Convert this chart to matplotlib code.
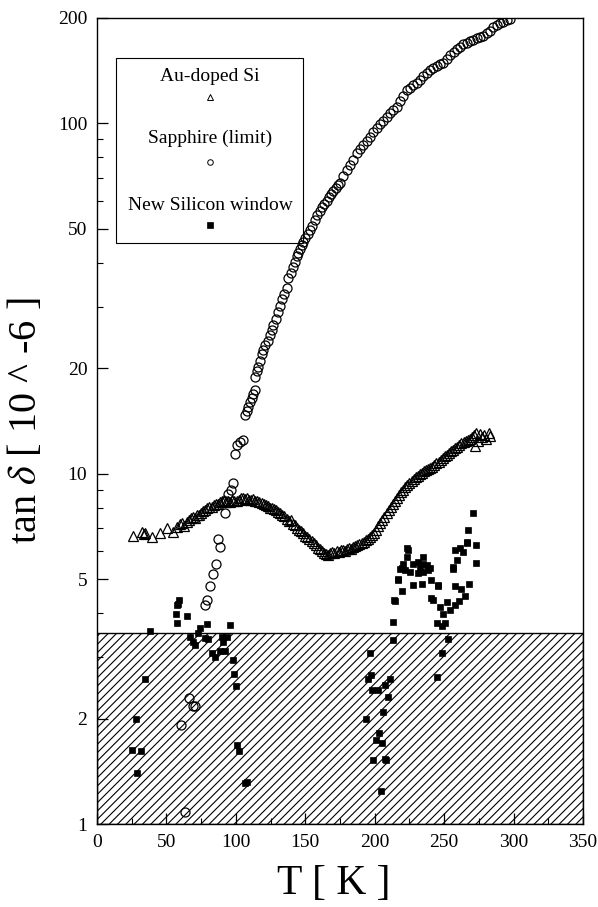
import matplotlib
matplotlib.use('Agg')
import numpy as np
import matplotlib.pyplot as plt
from matplotlib.patches import Rectangle
from matplotlib.ticker import FixedLocator, LogLocator, MultipleLocator, NullFormatter

# loss tangent (x 1e-6) vs temperature, three samples
au_T = [26.2, 32.2, 33.8, 34.6, 39.4, 45.4, 50.2, 55.0, 57.5,
        60.0, 61.5, 63.0, 64.5, 66.0, 67.5, 69.0, 70.5, 72.0, 73.5, 75.0, 76.5, 78.0, 79.5,
        81.0, 82.5, 84.0, 85.5, 87.0, 88.5, 90.0, 91.5, 93.0, 94.5, 96.0, 97.5, 99.0, 100.5,
        102.0, 103.5, 105.0, 106.5, 108.0, 109.5, 111.0, 112.5, 114.0, 115.5, 117.0, 118.5,
        120.0, 121.5, 123.0, 124.5, 126.0, 127.5, 129.0, 130.5, 132.0, 133.5, 135.0, 136.5,
        138.0, 139.5, 141.0, 142.5, 144.0, 145.5, 147.0, 148.5, 150.0, 151.5, 153.0, 154.5,
        156.0, 157.5, 159.0, 160.5, 162.0, 163.5, 165.0, 166.5, 168.0, 169.5, 171.0, 172.5,
        174.0, 175.5, 177.0, 178.5, 180.0, 181.5, 183.0, 184.5, 186.0, 187.5, 189.0, 190.5,
        192.0, 193.5, 195.0, 196.5, 198.0, 199.5, 201.0, 202.5, 204.0, 205.5, 207.0, 208.5,
        210.0, 211.5, 213.0, 214.5, 216.0, 217.5, 219.0, 220.5, 222.0, 223.5, 225.0, 226.5,
        228.0, 229.5, 231.0, 232.5, 234.0, 235.5, 237.0, 238.5, 240.0, 241.5, 243.0, 244.5,
        246.0, 247.5, 249.0, 250.5, 252.0, 253.5, 255.0, 256.5, 258.0, 259.5, 261.0, 262.5,
        264.0, 265.5, 267.0, 268.5, 270.0, 271.5, 272.0, 273.0, 274.5, 276.0, 277.5, 279.0,
        280.5, 282.0, 283.0]
au_tan = [6.64, 6.83, 6.72, 6.76, 6.61, 6.79, 6.99, 6.83, 7.05,
          7.18, 7.25, 7.08, 7.30, 7.36, 7.45, 7.52, 7.47, 7.60, 7.63, 7.72, 7.82, 7.86, 7.98,
          8.05, 8.02, 8.12, 8.18, 8.22, 8.30, 8.38, 8.42, 8.28, 8.36, 8.31, 8.40, 8.35, 8.38,
          8.44, 8.52, 8.50, 8.46, 8.55, 8.42, 8.40, 8.46, 8.35, 8.38, 8.30, 8.26,
          8.20, 8.16, 8.08, 8.00, 7.97, 7.92, 7.86, 7.78, 7.70, 7.63, 7.55, 7.44,
          7.32, 7.36, 7.20, 7.12, 7.02, 6.92, 6.86, 6.78, 6.66, 6.60, 6.50, 6.42,
          6.33, 6.24, 6.15, 6.08, 6.02, 5.95, 5.88, 5.86, 5.92, 5.97, 5.94, 6.00,
          5.98, 6.04, 6.06, 6.02, 6.08, 6.12, 6.10, 6.18, 6.22, 6.25, 6.30, 6.34,
          6.40, 6.46, 6.52, 6.58, 6.68, 6.78, 6.92, 7.08, 7.22, 7.38, 7.52, 7.70,
          7.86, 8.02, 8.18, 8.35, 8.52, 8.70, 8.85, 9.00, 9.18, 9.30, 9.42, 9.55,
          9.66, 9.78, 9.86, 9.95, 10.05, 10.15, 10.22, 10.30, 10.38, 10.48, 10.60, 10.70,
          10.82, 10.95, 11.12, 11.25, 11.34, 11.45, 11.60, 11.70, 11.82, 11.95, 12.08, 12.20,
          12.32, 12.40, 12.52, 12.60, 12.75, 12.90, 11.96, 13.05, 12.40, 12.95, 12.70, 12.90,
          12.55, 13.05, 12.85]

sap_T = [63.4, 60.5, 66.3, 69.4, 70.6, 78.0, 79.5, 81.4, 83.8, 85.5, 86.9, 88.6,
         92.2, 92.9, 94.6, 96.5, 98.2, 99.4, 100.6, 103.0, 105.4, 106.6, 108.0, 109.0,
         110.2, 111.4, 112.6, 113.8, 113.8, 115.0, 116.2, 117.4, 118.6, 119.8, 121.0,
         122.8, 124.6, 125.8, 127.0, 128.8, 130.6, 131.8, 133.0, 134.8, 136.6, 137.8,
         139.6, 141.4, 142.6, 143.8, 145.0, 146.2, 147.4, 148.6, 150.0, 151.6, 153.4,
         155.0, 157.0, 158.8, 160.6, 162.2, 163.8, 165.4, 167.0, 168.6, 170.2, 171.8,
         173.4, 175.0, 177.4, 179.8, 182.2, 184.6, 187.0, 189.4, 191.8, 194.2, 196.6,
         199.0, 201.4, 203.8, 206.2, 208.6, 211.0, 213.4, 215.8, 218.2, 220.6, 223.0,
         225.4, 227.8, 230.2, 232.6, 235.0, 237.4, 239.8, 242.2, 244.6, 247.0, 249.5,
         252.0, 254.4, 256.8, 259.0, 261.4, 263.8, 266.2, 268.6, 271.0, 273.4, 275.8,
         278.2, 280.6, 283.0, 285.4, 287.8, 290.2, 292.6, 295.0, 297.4]
sap_tan = [1.08, 1.92, 2.29, 2.17, 2.17, 4.22, 4.36, 4.77, 5.17, 5.53, 6.49, 6.17,
           7.74, 8.37, 8.77, 9.00, 9.43, 11.37, 12.06, 12.35, 12.50, 14.7, 15.1, 15.5,
           16.0, 16.4, 16.9, 17.3, 18.9, 19.6, 20.2, 21.0, 22.0, 22.6, 23.3,
           24.0, 24.9, 25.8, 26.6, 27.6, 29.0, 30.2, 31.6, 32.6, 33.8, 36.3,
           37.5, 39.0, 40.2, 41.7, 42.8, 43.9, 45.0, 46.0, 47.2, 48.3, 49.6,
           51.0, 52.9, 54.6, 56.4, 57.8, 59.0, 60.2, 61.6, 62.8, 64.1, 65.4,
           66.7, 67.7, 71.0, 73.7, 76.0, 78.8, 82.1, 84.5, 86.6, 89.3, 91.6,
           94.8, 97.3, 99.5, 101.9, 104.0, 106.8, 109.5, 111.5, 115.5, 120.0, 124.3,
           126.0, 128.6, 130.5, 133.0, 136.5, 139.5, 141.8, 144.0, 146.0, 147.5, 149.2,
           153.0, 156.5, 160.0, 163.0, 165.5, 168.0, 170.0, 171.4, 173.0, 175.5, 176.5,
           177.9, 181.5, 184.0, 188.0, 191.0, 193.5, 195.0, 197.5, 199.0]

si_T = [38.2, 59.3, 58.6, 57.8, 56.9, 64.6, 57.4, 79.0, 74.2, 95.8, 73.0, 67.0,
        69.4, 70.6, 77.8, 80.1, 89.8, 93.4, 91.0, 82.6, 85.0, 88.6, 92.2, 98.2,
        98.7, 100.1, 34.6, 27.8, 25.5, 31.8, 28.6, 100.6, 102.5, 106.6, 108.2,
        271.0, 267.4, 266.2, 273.1, 261.4, 257.8, 263.8, 273.1, 259.0, 256.1, 268.1,
        257.8, 262.1, 265.0, 260.9, 257.8, 251.8, 247.0, 254.2, 249.4, 241.9, 240.7,
        245.6, 240.5, 238.6, 235.0, 231.4, 235.0, 235.0, 231.4, 227.8, 224.2, 223.0,
        220.6, 219.4, 221.8, 225.4, 216.9, 219.4, 227.8, 233.8, 214.6, 213.4, 244.6,
        248.2, 250.6, 237.4, 239.8, 232.6, 213.4, 252.9, 248.2, 244.6, 211.0, 207.4,
        209.9, 206.2, 205.0, 207.4, 204.3, 196.6, 197.1, 195.4, 197.8, 202.6, 201.0,
        202.9, 193.6, 198.6, 208.1, 213.9, 223.0, 218.2, 217.0, 245.8, 256.6, 266.2]
si_tan = [3.56, 4.36, 4.26, 4.22, 3.97, 3.92, 3.76, 3.73, 3.63, 3.71, 3.50, 3.41,
          3.31, 3.24, 3.39, 3.37, 3.41, 3.42, 3.31, 3.08, 3.00, 3.12, 3.12, 2.94,
          2.68, 2.48, 2.59, 1.99, 1.63, 1.62, 1.40, 1.68, 1.62, 1.31, 1.32,
          7.70, 6.90, 6.33, 6.27, 6.14, 6.04, 5.96, 5.55, 5.67, 5.42, 4.83,
          4.79, 4.70, 4.48, 4.33, 4.22, 4.31, 4.16, 4.08, 3.98, 4.36, 4.41,
          4.77, 4.97, 5.30, 5.25, 5.19, 5.79, 5.54, 5.60, 5.54, 6.06, 5.79,
          5.54, 5.37, 5.30, 5.25, 4.97, 4.62, 4.81, 4.83, 4.33, 3.77, 3.76,
          3.67, 3.74, 5.48, 5.37, 5.37, 3.35, 3.37, 3.08, 2.62, 2.59, 2.49,
          2.31, 2.09, 1.70, 1.53, 1.24, 3.08, 2.66, 2.59, 2.42, 2.42, 1.74,
          1.82, 1.99, 1.52, 1.52, 4.36, 6.14, 5.34, 5.00, 4.82, 5.34, 6.40]

floor_limit = 3.5   # hatched band: measurement limit

y_ticks = [1, 2, 5, 10, 20, 50, 100, 200]
y_tick_labels = ['1', '2', '5', '10', '20', '50', '100', '200']
legend_labels = ['Au-doped Si', 'Sapphire (limit)', 'New Silicon window']

plt.rcParams['font.family'] = ['Liberation Serif', 'DejaVu Serif']
plt.rcParams['mathtext.fontset'] = 'stix'
plt.rcParams['hatch.linewidth'] = 0.8

fig = plt.figure(figsize=(5.98, 9.07), dpi=100)
ax = fig.add_axes([0.1622, 0.0915, 0.8127, 0.8887])

ax.axhspan(1, floor_limit, facecolor='none', edgecolor='black', hatch='////', lw=1.0, zorder=1)

ax.plot(au_T, au_tan, ls='none', marker='^', ms=7.5, mfc='none', mec='black', mew=0.9, zorder=3)
ax.plot(sap_T, sap_tan, ls='none', marker='o', ms=6.5, mfc='none', mec='black', mew=0.9, zorder=3)
ax.plot(si_T, si_tan, ls='none', marker='s', ms=4.7, mfc='black', mec='black', mew=0.5, zorder=4)

ax.set_yscale('log')
ax.set_xlim(0, 350)
ax.set_ylim(1, 200)
ax.yaxis.set_major_locator(FixedLocator(y_ticks))
ax.set_yticklabels(y_tick_labels)
ax.yaxis.set_minor_locator(LogLocator(base=10, subs=np.arange(2, 10)))
ax.yaxis.set_minor_formatter(NullFormatter())
ax.xaxis.set_major_locator(MultipleLocator(50))
ax.xaxis.set_minor_locator(MultipleLocator(25))

ax.tick_params(which='major', direction='in', length=8, width=0.9, labelsize=14, pad=7)
ax.tick_params(which='minor', direction='in', length=4, width=0.8)
for s in ax.spines.values():
    s.set_linewidth(1.0)

ax.set_ylabel(r'tan $\delta$ [ 10 ^ -6 ]', fontsize=29)
ax.yaxis.set_label_coords(-0.107, 0.5)
ax.set_xlabel('T [ K ]', fontsize=30)
ax.xaxis.set_label_coords(0.488, -0.05)

# hand-made legend: label above its marker
ax.add_patch(Rectangle((0.039, 0.721), 0.385, 0.229, transform=ax.transAxes,
                       fill=False, lw=0.8, zorder=5))
text_y = [0.927, 0.851, 0.767]
mark_y = [0.902, 0.821, 0.743]
styles = [dict(marker='^', ms=5, mfc='none', mec='black', mew=0.7),
          dict(marker='o', ms=4, mfc='none', mec='black', mew=0.7),
          dict(marker='s', ms=4, mfc='black', mec='black', mew=0.5)]
for lab, ty, my, st in zip(legend_labels, text_y, mark_y, styles):
    ax.text(0.2325, ty, lab, transform=ax.transAxes, ha='center', va='center', fontsize=14)
    ax.plot([0.2325], [my], transform=ax.transAxes, ls='none', **st)

fig.savefig('out.png', dpi=100)
